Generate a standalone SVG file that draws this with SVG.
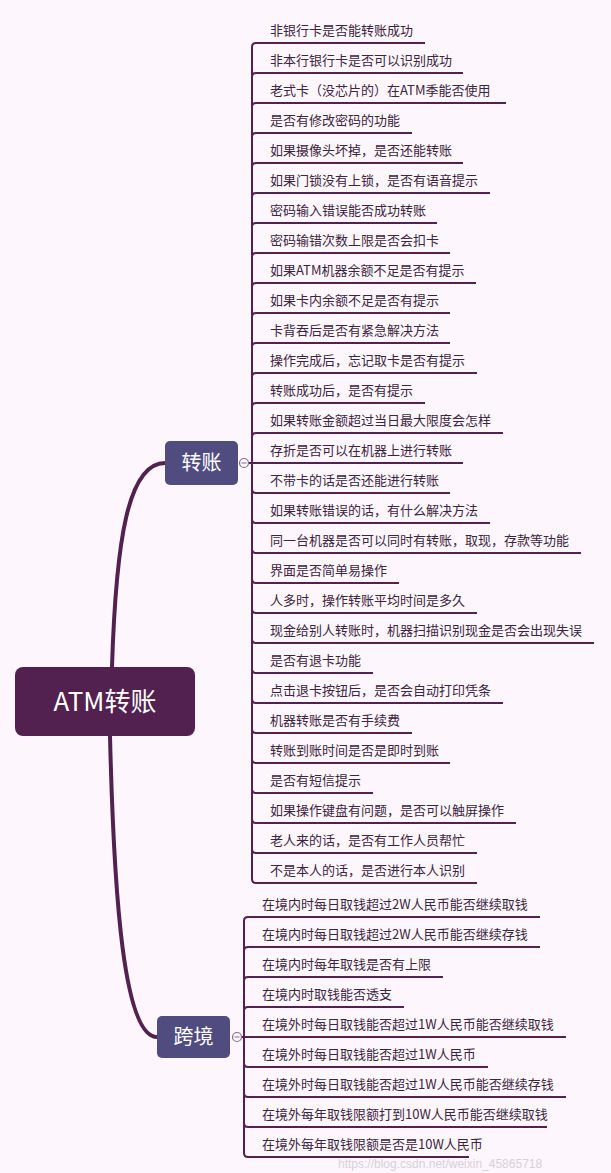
<svg xmlns="http://www.w3.org/2000/svg" width="611" height="1173" viewBox="0 0 611 1173">
<style>
.leaf{font-family:"Noto Sans CJK SC","Liberation Sans",sans-serif;font-size:13px;fill:#3b2540}
.ln{fill:none;stroke:#52214f;stroke-width:2}
.br{font-family:"Noto Sans CJK SC",sans-serif;font-size:20px;fill:#fff;text-anchor:middle}
</style>
<rect width="611" height="1173" fill="#fdf6fc"/>
<g id="connectors">
<path d="M112 667 C116 540 128 463 165 463" fill="none" stroke="#52214f" stroke-width="4"/>
<path d="M110 736 C114 900 124 1037 157 1037" fill="none" stroke="#52214f" stroke-width="4"/>
<path class="ln" d="M249 463H252"/>
<path class="ln" d="M242 1037H244"/>
<g id="c1" class="ln">
<path d="M252 463V47Q252 43 256 43H425"/>
<path d="M252 463V77Q252 73 256 73H463"/>
<path d="M252 463V107Q252 103 256 103H506"/>
<path d="M252 463V137Q252 133 256 133H412"/>
<path d="M252 463V167Q252 163 256 163H463"/>
<path d="M252 463V197Q252 193 256 193H490"/>
<path d="M252 463V227Q252 223 256 223H437"/>
<path d="M252 463V257Q252 253 256 253H450"/>
<path d="M252 463V287Q252 283 256 283H476"/>
<path d="M252 463V317Q252 313 256 313H450"/>
<path d="M252 463V347Q252 343 256 343H450"/>
<path d="M252 463V377Q252 373 256 373H477"/>
<path d="M252 463V407Q252 403 256 403H425"/>
<path d="M252 463V437Q252 433 256 433H503"/>
<path d="M252 463H463"/>
<path d="M252 463V489Q252 493 256 493H450"/>
<path d="M252 463V519Q252 523 256 523H490"/>
<path d="M252 463V549Q252 553 256 553H581"/>
<path d="M252 463V579Q252 583 256 583H399"/>
<path d="M252 463V609Q252 613 256 613H477"/>
<path d="M252 463V639Q252 643 256 643H594"/>
<path d="M252 463V669Q252 673 256 673H373"/>
<path d="M252 463V699Q252 703 256 703H503"/>
<path d="M252 463V729Q252 733 256 733H412"/>
<path d="M252 463V759Q252 763 256 763H450"/>
<path d="M252 463V789Q252 793 256 793H373"/>
<path d="M252 463V819Q252 823 256 823H516"/>
<path d="M252 463V849Q252 853 256 853H477"/>
<path d="M252 463V879Q252 883 256 883H477"/>
</g>
<g id="c2" class="ln">
<path d="M244 1037V921Q244 917 248 917H540"/>
<path d="M244 1037V951Q244 947 248 947H540"/>
<path d="M244 1037V981Q244 977 248 977H443"/>
<path d="M244 1037V1011Q244 1007 248 1007H404"/>
<path d="M244 1037H566"/>
<path d="M244 1037V1063Q244 1067 248 1067H488"/>
<path d="M244 1037V1093Q244 1097 248 1097H566"/>
<path d="M244 1037V1123Q244 1127 248 1127H547"/>
<path d="M244 1037V1153Q244 1157 248 1157H469"/>
</g>
</g>
<g id="root"><rect x="15" y="667" width="180" height="69" rx="8" fill="#52214f"/><text x="105" y="711" font-family="Noto Sans CJK SC,sans-serif" font-size="26" fill="#fff" text-anchor="middle">ATM转账</text></g>
<g id="zhuanzhang"><rect x="165" y="441" width="73" height="44" rx="5" fill="#504c80"/><text class="br" x="201.5" y="470">转账</text><circle cx="244" cy="463" r="4.5" fill="#fdf6fc" stroke="#8a6a88" stroke-width="1.2"/><path d="M241.5 463H246.5" stroke="#8a6a88"/></g>
<g id="kuajing"><rect x="157" y="1016" width="73" height="42" rx="5" fill="#504c80"/><text class="br" x="193.5" y="1044">跨境</text><circle cx="237" cy="1037" r="4.5" fill="#fdf6fc" stroke="#8a6a88" stroke-width="1.2"/><path d="M234.5 1037H239.5" stroke="#8a6a88"/></g>
<g id="leaves1" class="leaf">
<text x="270" y="35">非银行卡是否能转账成功</text>
<text x="270" y="65">非本行银行卡是否可以识别成功</text>
<text x="270" y="95">老式卡（没芯片的）在ATM季能否使用</text>
<text x="270" y="125">是否有修改密码的功能</text>
<text x="270" y="155">如果摄像头坏掉，是否还能转账</text>
<text x="270" y="185">如果门锁没有上锁，是否有语音提示</text>
<text x="270" y="215">密码输入错误能否成功转账</text>
<text x="270" y="245">密码输错次数上限是否会扣卡</text>
<text x="270" y="275">如果ATM机器余额不足是否有提示</text>
<text x="270" y="305">如果卡内余额不足是否有提示</text>
<text x="270" y="335">卡背吞后是否有紧急解决方法</text>
<text x="270" y="365">操作完成后，忘记取卡是否有提示</text>
<text x="270" y="395">转账成功后，是否有提示</text>
<text x="270" y="425">如果转账金额超过当日最大限度会怎样</text>
<text x="270" y="455">存折是否可以在机器上进行转账</text>
<text x="270" y="485">不带卡的话是否还能进行转账</text>
<text x="270" y="515">如果转账错误的话，有什么解决方法</text>
<text x="270" y="545">同一台机器是否可以同时有转账，取现，存款等功能</text>
<text x="270" y="575">界面是否简单易操作</text>
<text x="270" y="605">人多时，操作转账平均时间是多久</text>
<text x="270" y="635">现金给别人转账时，机器扫描识别现金是否会出现失误</text>
<text x="270" y="665">是否有退卡功能</text>
<text x="270" y="695">点击退卡按钮后，是否会自动打印凭条</text>
<text x="270" y="725">机器转账是否有手续费</text>
<text x="270" y="755">转账到账时间是否是即时到账</text>
<text x="270" y="785">是否有短信提示</text>
<text x="270" y="815">如果操作键盘有问题，是否可以触屏操作</text>
<text x="270" y="845">老人来的话，是否有工作人员帮忙</text>
<text x="270" y="875">不是本人的话，是否进行本人识别</text>
</g>
<g id="leaves2" class="leaf">
<text x="262" y="909">在境内时每日取钱超过2W人民币能否继续取钱</text>
<text x="262" y="939">在境内时每日取钱超过2W人民币能否继续存钱</text>
<text x="262" y="969">在境内时每年取钱是否有上限</text>
<text x="262" y="999">在境内时取钱能否透支</text>
<text x="262" y="1029">在境外时每日取钱能否超过1W人民币能否继续取钱</text>
<text x="262" y="1059">在境外时每日取钱能否超过1W人民币</text>
<text x="262" y="1089">在境外时每日取钱能否超过1W人民币能否继续存钱</text>
<text x="262" y="1119">在境外每年取钱限额打到10W人民币能否继续取钱</text>
<text x="262" y="1149">在境外每年取钱限额是否是10W人民币</text>
</g>
<text x="338" y="1168" font-family="Liberation Sans,sans-serif" font-size="12" fill="#d8d0d8">https://blog.csdn.net/weixin_45865718</text>
</svg>
